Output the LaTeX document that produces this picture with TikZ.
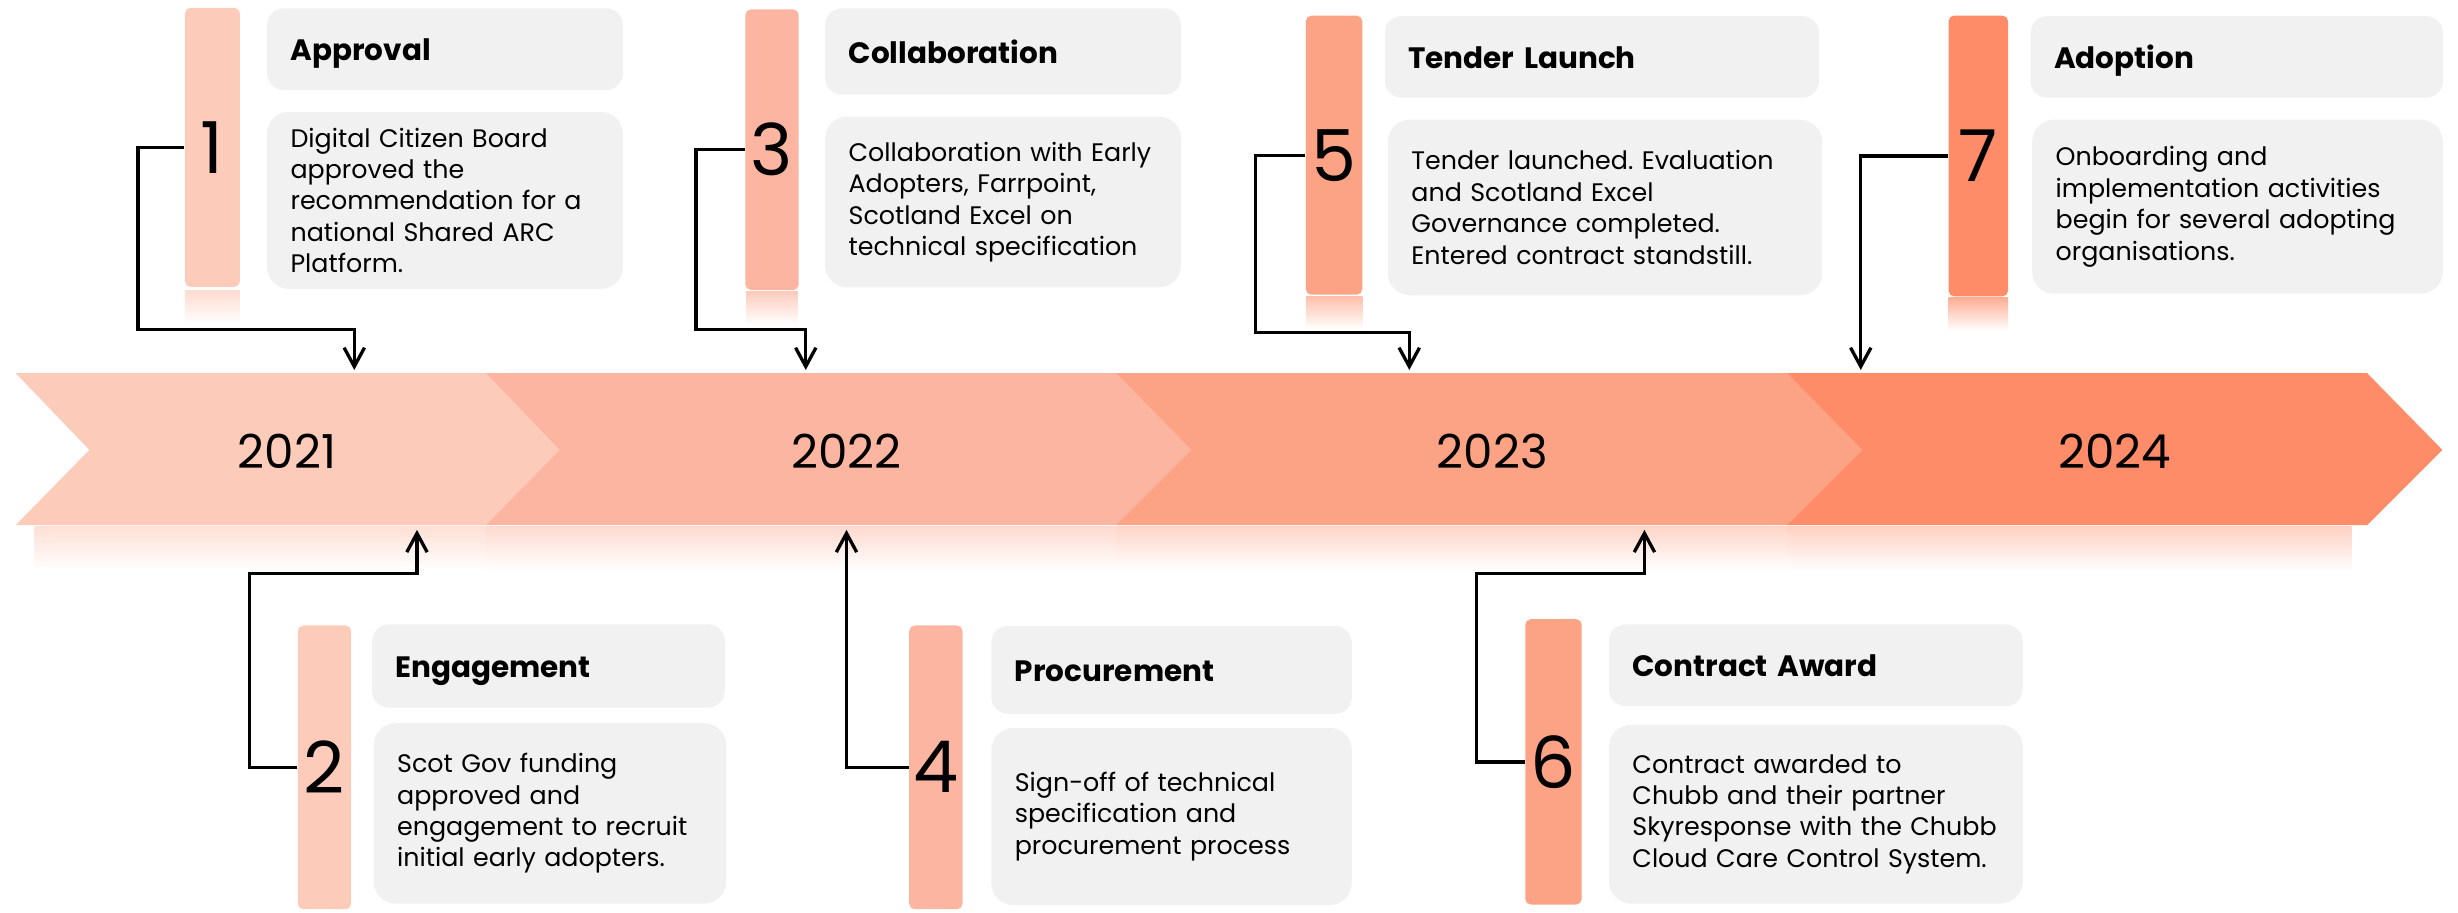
\documentclass[tikz,border=0pt]{standalone}
\usepackage{fontspec}
\setmainfont{Poppins}
\usetikzlibrary{arrows.meta,positioning}
\frenchspacing

\definecolor{yrA}{HTML}{FDCBBA}
\definecolor{yrB}{HTML}{FCB5A1}
\definecolor{yrC}{HTML}{FDA385}
\definecolor{yrD}{HTML}{FE8C69}
\definecolor{boxgray}{HTML}{F1F1F1}

\tikzset{
  sz/.style 2 args={minimum width=#1*0.02cm, minimum height=#2*0.02cm},
  bar/.style={rounded corners=2pt, inner sep=0pt, font=\fontsize{26}{26}\selectfont},
  boxw/.code={\pgfmathsetmacro\boxtw{(#1-30)*0.02}\tikzset{text width=\boxtw cm}},
  headbox/.style={fill=boxgray, rounded corners=6pt, anchor=north west,
    inner xsep=0.3cm, align=left, text height=11pt, text depth=2.5pt,
    font=\bfseries\fontsize{10.7}{12}\selectfont},
  bodybox/.style={fill=boxgray, rounded corners=8pt, anchor=north west,
    inner xsep=0.3cm, align=left, font=\fontsize{9.2}{11.4}\selectfont},
  year/.style={font=\fontsize{17}{17}\selectfont},
  conn/.style={-{Straight Barb[length=2.4mm,width=2.6mm]}, line width=1.2pt}
}

\begin{document}
\begin{tikzpicture}[x=0.02cm, y=-0.02cm]
  \useasboundingbox (0,0) rectangle (1568,582);

  % band
  \fill[yrD] (1140,238) -- (1510,238) -- (1558,287) -- (1510,335) -- (1140,335) -- cycle;
  \fill[yrC] (712,238) -- (1140,238) -- (1188,287) -- (1140,335) -- (712,335) -- cycle;
  \fill[yrB] (310,238) -- (712,238) -- (760,287) -- (712,335) -- (310,335) -- cycle;
  \fill[yrA] (10,238) -- (310,238) -- (357,287) -- (310,335) -- (10,335) -- (57,287) -- cycle;
  \shade[top color=yrA!60, bottom color=white] (22,336) rectangle (310,364);
  \shade[top color=yrB!50, bottom color=white] (310,336) rectangle (712,364);
  \shade[top color=yrC!45, bottom color=white] (712,336) rectangle (1140,364);
  \shade[top color=yrD!40, bottom color=white] (1140,336) rectangle (1500,364);

  \node[year] (y21) at (183,288) {2021};
  \node[year] (y22) at (540,288) {2022};
  \node[year] (y23) at (952,288) {2023};
  \node[year] (y24) at (1349,288) {2024};

  \coordinate (t1) at (226,236);
  \coordinate (t3) at (514,236);
  \coordinate (t5) at (899,236);
  \coordinate (t7) at (1187,236);
  \coordinate (t2) at (266,338);
  \coordinate (t4) at (540,338);
  \coordinate (t6) at (1049,338);

  % top row
  \shade[top color=yrA!70, bottom color=white] (118,185) rectangle (153,206);
  \shade[top color=yrB!70, bottom color=white] (476,186) rectangle (509,207);
  \shade[top color=yrC!70, bottom color=white] (833,189) rectangle (869,210);
  \shade[top color=yrD!70, bottom color=white] (1243,190) rectangle (1281,211);

  \node[bar, fill=yrA, sz={35}{178}] (n1) at (135.5,94) {1};
  \node[headbox, sz={227}{52}, boxw=227] (h1) at (170,5) {Approval};
  \node[bodybox, sz={227}{113}, boxw=227] (b1) at (170,71)
    {Digital Citizen Board\\approved the\\recommendation for a\\national Shared ARC\\Platform.};

  \node[bar, fill=yrB, sz={34}{179}] (n3) at (492.5,95.5) {3};
  \node[headbox, sz={227}{55}, boxw=227] (h3) at (526,5) {Collaboration};
  \node[bodybox, sz={227}{109}, boxw=227] (b3) at (526,74)
    {Collaboration with Early\\Adopters, Farrpoint,\\Scotland Excel on\\technical specification};

  \node[bar, fill=yrC, sz={36}{178}] (n5) at (851,99) {5};
  \node[headbox, sz={277}{52}, boxw=277] (h5) at (883,10) {Tender Launch};
  \node[bodybox, sz={277}{112}, boxw=277] (b5) at (885,76)
    {Tender launched. Evaluation\\and Scotland Excel\\Governance completed.\\Entered contract standstill.};

  \node[bar, fill=yrD, sz={38}{179}] (n7) at (1262,99.5) {7};
  \node[headbox, sz={263}{52}, boxw=263] (h7) at (1295,10) {Adoption};
  \node[bodybox, sz={262}{111}, boxw=262] (b7) at (1296,76)
    {Onboarding and\\implementation activities\\begin for several adopting\\organisations.};

  % bottom row
  \node[bar, fill=yrA, sz={34}{181}] (n2) at (207,489.5) {2};
  \node[headbox, sz={225}{53}, boxw=225] (h2) at (237,398) {Engagement};
  \node[bodybox, sz={225}{115}, boxw=225] (b2) at (238,461)
    {Scot Gov funding\\approved and\\engagement to recruit\\initial early adopters.};

  \node[bar, fill=yrB, sz={34}{181}] (n4) at (597,489.5) {4};
  \node[headbox, sz={230}{56}, boxw=230] (h4) at (632,399) {Procurement};
  \node[bodybox, sz={230}{113}, boxw=230] (b4) at (632,464)
    {Sign-off of technical\\specification and\\procurement process};

  \node[bar, fill=yrC, sz={36}{182}] (n6) at (991,486) {6};
  \node[headbox, sz={264}{52}, boxw=264] (h6) at (1026,398) {Contract Award};
  \node[bodybox, sz={264}{114}, boxw=264] (b6) at (1026,462)
    {Contract awarded to\\Chubb and their partner\\Skyresponse with the Chubb\\Cloud Care Control System.};

  % connectors
  \draw[conn] (n1.west) -| (88,210) -| (t1);
  \draw[conn] (n3.west) -| (444,210) -| (t3);
  \draw[conn] (n5.west) -| (801,212) -| (t5);
  \draw[conn] (n7.west) -| (t7);
  \draw[conn] (n2.west) -| (159,366) -| (t2);
  \draw[conn] (n4.west) -| (t4);
  \draw[conn] (n6.west) -| (942,366) -| (t6);
\end{tikzpicture}
\end{document}
